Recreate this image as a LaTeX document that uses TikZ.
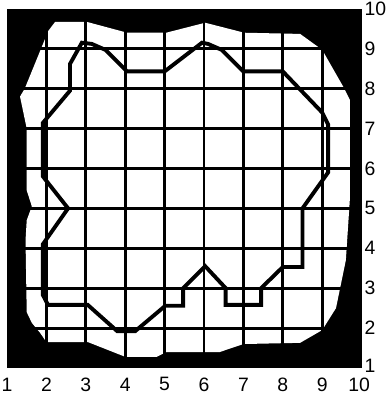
\documentclass[tikz,border=0pt]{standalone}
\usepackage{fontspec}
\setmainfont{Liberation Sans}
\usepackage{tikz}

\begin{document}
\begin{tikzpicture}[x=1cm,y=1.013cm]
		\tikzset{gridline/.style={line width=2.1pt},contour/.style={line width=2.8pt},ticklabel/.style={font=\fontsize{14}{14}\selectfont,inner sep=0pt}};
		\useasboundingbox (0.822,0.323) rectangle (10.645,10.22);
		% dark border and the white area inside it
		\fill[black] (1,1) rectangle (10,10);
		\fill[white] (2.22,9.67) -- (3.03,9.67) -- (4.05,9.40) -- (5.04,9.40) -- (6.03,9.65) -- (7.02,9.40) -- (8.44,9.37) -- (9.0,8.97) -- (9.55,8.02) -- (9.7,7.72) -- (9.7,5.2) -- (9.6,3.7) -- (9.35,2.5) -- (9.0,1.95) -- (8.44,1.63) -- (7.0,1.6) -- (6.4,1.4) -- (5.05,1.4) -- (4.8,1.28) -- (4.0,1.28) -- (3.05,1.65) -- (2.0,1.65) -- (1.84,1.88) -- (1.63,2.13) -- (1.5,2.4) -- (1.47,4.2) -- (1.5,4.7) -- (1.63,5.05) -- (1.5,5.45) -- (1.5,7.0) -- (1.33,7.8) -- (1.45,8.0) -- (2.05,9.45) -- cycle;
		\foreach \k in {2,...,9} {
			\draw[gridline] (\k,1) -- (\k,10);
			\draw[gridline] (1,\k) -- (10,\k);
		}
		% closed contour
		\draw[contour] (2.6,7.95) -- (2.6,8.62) -- (2.9,9.15) -- (3.15,9.12) -- (3.5,8.97) -- (4.05,8.43) -- (5.0,8.43) -- (5.95,9.15) -- (6.1,9.12) -- (6.45,8.97) -- (7.0,8.43) -- (8.0,8.43) -- (9.0,7.4) -- (9.15,7.1) -- (9.15,5.9) -- (8.5,5.0) -- (8.5,3.53) -- (8.0,3.53) -- (7.45,3.0) -- (7.45,2.58) -- (6.55,2.58) -- (6.55,3.0) -- (6.03,3.55) -- (5.47,3.0) -- (5.47,2.56) -- (5.02,2.56) -- (4.25,1.92) -- (3.8,1.92) -- (3.05,2.58) -- (2.04,2.58) -- (1.91,2.83) -- (1.91,4.1) -- (2.55,5.0) -- (1.91,5.8) -- (1.91,7.14) -- cycle;
		\foreach \k in {1,...,9} {
			\node[ticklabel] (xlab\k) at (\k,0.59) {\k};
		}
		\node[ticklabel] (xlab10) at (9.94,0.59) {10};
		\node[ticklabel,anchor=west] (ylab1) at (10.07,1.05) {1};
		\foreach \k in {2,...,10} {
			\node[ticklabel,anchor=west] (ylab\k) at (10.07,\k) {\k};
		}
	\end{tikzpicture}
\end{document}
